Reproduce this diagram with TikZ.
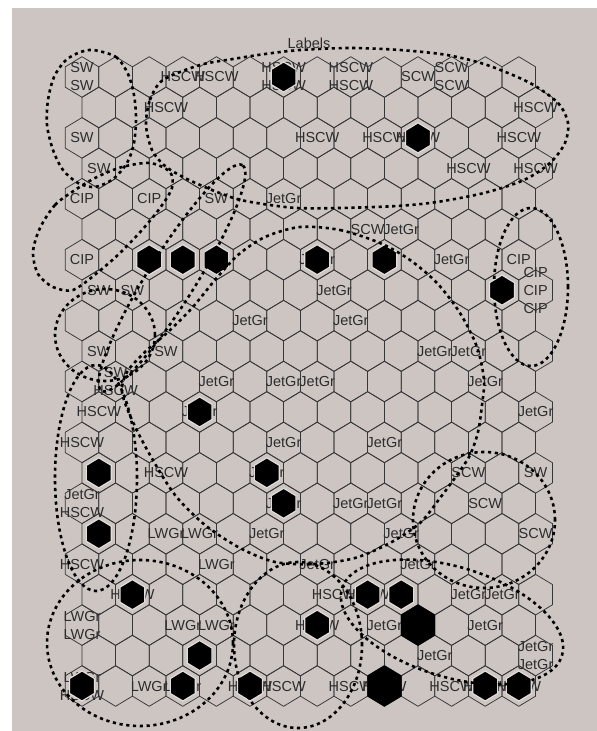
\documentclass[tikz,border=0pt]{standalone}
\usepackage{fontspec}
\setmainfont{Liberation Sans}
\definecolor{bg}{RGB}{204,197,194}
\definecolor{hexline}{RGB}{55,55,55}
\definecolor{txt}{RGB}{45,45,45}
\definecolor{ring}{RGB}{226,220,218}
\tikzset{
  dots/.style={line width=2.6pt, dash pattern=on 3.2pt off 3.6pt, black},
  labs/.style={font=\fontsize{14.5}{16}\selectfont, text=txt, inner sep=0pt},
  cell/.style={draw=hexline, line width=0.75pt},
  hit/.style={fill=black, draw=ring, line width=1.2pt},
  bighit/.style={fill=black},
}
\newcommand\cellpos[2]{%
  \pgfmathsetmacro\cx{82+33.6*(#2-1)+16.8*(1-mod(#1,2))}%
  \pgfmathsetmacro\cy{77+30.45*(#1-1)}}
\newcommand\hexat[3]{({#1},{#2-20.3*#3}) -- ({#1+16.8*#3},{#2-10.15*#3}) -- ({#1+16.8*#3},{#2+10.15*#3}) -- ({#1},{#2+20.3*#3}) -- ({#1-16.8*#3},{#2+10.15*#3}) -- ({#1-16.8*#3},{#2-10.15*#3}) -- cycle}
\newcommand\lab[3]{\cellpos{#1}{#2}\node[labs] (L#1-#2) at (\cx,\cy) {#3};}
\newcommand\labb[4]{\cellpos{#1}{#2}\node[labs] (L#1-#2a) at (\cx,\cy-9) {#3};\node[labs] (L#1-#2b) at (\cx,\cy+9) {#4};}
\newcommand\blk[2]{\cellpos{#1}{#2}\path[hit] \hexat{\cx}{\cy}{0.74};}
\newcommand\bigblk[2]{\cellpos{#1}{#2}\path[bighit] \hexat{\cx}{\cy}{1.02};}
\begin{document}
\begin{tikzpicture}[x=1pt,y=-1pt]
\useasboundingbox (0,0) rectangle (597,731);
\fill[white] (0,0) rectangle (597,731);
\fill[bg] (12,8) rectangle (597,731);
% grid
\foreach \r in {1,...,21}{\foreach \c in {1,...,14}{\cellpos{\r}{\c}\draw[cell] \hexat{\cx}{\cy}{1};}}
% title
\node[labs] (title) at (309,43) {Labels};
% labels
\labb{1}{1}{SW}{SW}\lab{1}{4}{HSCW}\lab{1}{5}{HSCW}\labb{1}{7}{HSCW}{HSCW}\labb{1}{9}{HSCW}{HSCW}\lab{1}{11}{SCW}\labb{1}{12}{SCW}{SCW}
\lab{2}{3}{HSCW}\lab{2}{14}{HSCW}
\lab{3}{1}{SW}\lab{3}{8}{HSCW}\lab{3}{10}{HSCW}\lab{3}{11}{HSCW}\lab{3}{14}{HSCW}
\lab{4}{1}{SW}\lab{4}{12}{HSCW}\lab{4}{14}{HSCW}
\lab{5}{1}{CIP}\lab{5}{3}{CIP}\lab{5}{5}{SW}\lab{5}{7}{JetGr}
\lab{6}{9}{SCW}\lab{6}{10}{JetGr}
\lab{7}{1}{CIP}\lab{7}{8}{JetGr}\lab{7}{12}{JetGr}\lab{7}{14}{CIP}
\lab{8}{1}{SW}\lab{8}{2}{SW}\lab{8}{8}{JetGr}
\cellpos{8}{14}\node[labs] (L8-14a) at (\cx,\cy-18) {CIP};\node[labs] (L8-14b) at (\cx,\cy) {CIP};\node[labs] (L8-14c) at (\cx,\cy+18) {CIP};
\lab{9}{6}{JetGr}\lab{9}{9}{JetGr}
\lab{10}{1}{SW}\lab{10}{3}{SW}\lab{10}{11}{JetGr}\lab{10}{12}{JetGr}
\labb{11}{2}{SW}{HSCW}\lab{11}{5}{JetGr}\lab{11}{7}{JetGr}\lab{11}{8}{JetGr}\lab{11}{13}{JetGr}
\lab{12}{1}{HSCW}\lab{12}{4}{JetGr}\lab{12}{14}{JetGr}
\lab{13}{1}{HSCW}\lab{13}{7}{JetGr}\lab{13}{10}{JetGr}
\lab{14}{3}{HSCW}\lab{14}{6}{JetGr}\lab{14}{12}{SCW}\lab{14}{14}{SW}
\labb{15}{1}{JetGr}{HSCW}\lab{15}{7}{JetGr}\lab{15}{9}{JetGr}\lab{15}{10}{JetGr}\lab{15}{13}{SCW}
\lab{16}{3}{LWGr}\lab{16}{4}{LWGr}\lab{16}{6}{JetGr}\lab{16}{10}{JetGr}\lab{16}{14}{SCW}
\lab{17}{1}{HSCW}\lab{17}{5}{LWGr}\lab{17}{8}{JetGr}\lab{17}{11}{JetGr}
\lab{18}{2}{HSCW}\lab{18}{8}{HSCW}\lab{18}{9}{HSCW}\lab{18}{12}{JetGr}\lab{18}{13}{JetGr}
\labb{19}{1}{LWGr}{LWGr}\lab{19}{4}{LWGr}\lab{19}{5}{LWGr}\lab{19}{8}{HSCW}\lab{19}{10}{JetGr}\lab{19}{13}{JetGr}
\lab{20}{11}{JetGr}\labb{20}{14}{JetGr}{JetGr}
\labb{21}{1}{LWGr}{HSCW}\lab{21}{3}{LWGr}\lab{21}{4}{LWGr}\lab{21}{6}{HSCW}\lab{21}{7}{HSCW}\lab{21}{9}{HSCW}\lab{21}{10}{HSCW}\lab{21}{12}{HSCW}\lab{21}{13}{HSCW}\lab{21}{14}{HSCW}
% hits
\blk{1}{7}\blk{3}{11}\blk{7}{3}\blk{7}{4}\blk{7}{5}\blk{7}{8}\blk{7}{10}\blk{8}{13}
\blk{12}{4}\blk{14}{1}\blk{14}{6}\blk{15}{7}\blk{16}{1}\blk{18}{2}\blk{18}{9}\blk{18}{10}
\blk{19}{8}\bigblk{19}{11}\blk{20}{4}\blk{21}{1}\blk{21}{4}\blk{21}{6}\bigblk{21}{10}\blk{21}{13}\blk{21}{14}
% cluster outlines
\draw[dots] plot[smooth cycle] coordinates {(93,50) (116,57) (128,74) (134,95) (136,118) (134,143) (127,163) (113,179) (95,187) (78,183) (63,170) (53,150) (47,125) (48,100) (54,77) (65,61) (78,53)};
\draw[dots] plot[smooth cycle] coordinates {(146,125) (150,100) (163,80) (200,65) (233,59) (265,54) (300,50) (350,48) (400,50) (447,55) (487,65) (530,83) (558,103) (568,123) (565,143) (550,163) (524,180) (484,193) (437,202) (397,206) (340,208) (297,208) (263,204) (237,199) (212,190) (185,178) (165,166) (152,150)};
\draw[dots] plot[smooth cycle] coordinates {(75,190) (55,205) (40,228) (33,252) (38,274) (53,287) (73,290) (97,273) (120,253) (142,230) (160,208) (172,188) (170,172) (150,163) (122,167) (97,177)};
\draw[dots, rotate around={58:(172,278)}] (172,278) ellipse [x radius=133pt, y radius=24pt];
\draw[dots] (105,335) ellipse [x radius=50pt, y radius=46pt];
\draw[dots] plot[smooth cycle] coordinates {(300,227) (340,230) (380,243) (410,260) (437,283) (460,313) (477,347) (484,380) (482,405) (478,432) (470,455) (457,475) (440,498) (420,523) (390,543) (355,558) (315,564) (275,562) (240,548) (205,525) (175,495) (150,455) (132,420) (122,392) (127,372) (145,352) (168,332) (192,308) (215,280) (238,255) (265,237)};
\draw[dots] (531,287) ellipse [x radius=37pt, y radius=79pt];
\draw[dots] (96,478) ellipse [x radius=41pt, y radius=113pt];
\draw[dots] (484,520) ellipse [x radius=71pt, y radius=68pt];
\draw[dots] (140,643) ellipse [x radius=93pt, y radius=83pt];
\draw[dots] (298,645) ellipse [x radius=64pt, y radius=83pt];
\draw[dots, rotate around={-17:(452,622)}] (452,622) ellipse [x radius=115pt, y radius=55pt];
\end{tikzpicture}
\end{document}
